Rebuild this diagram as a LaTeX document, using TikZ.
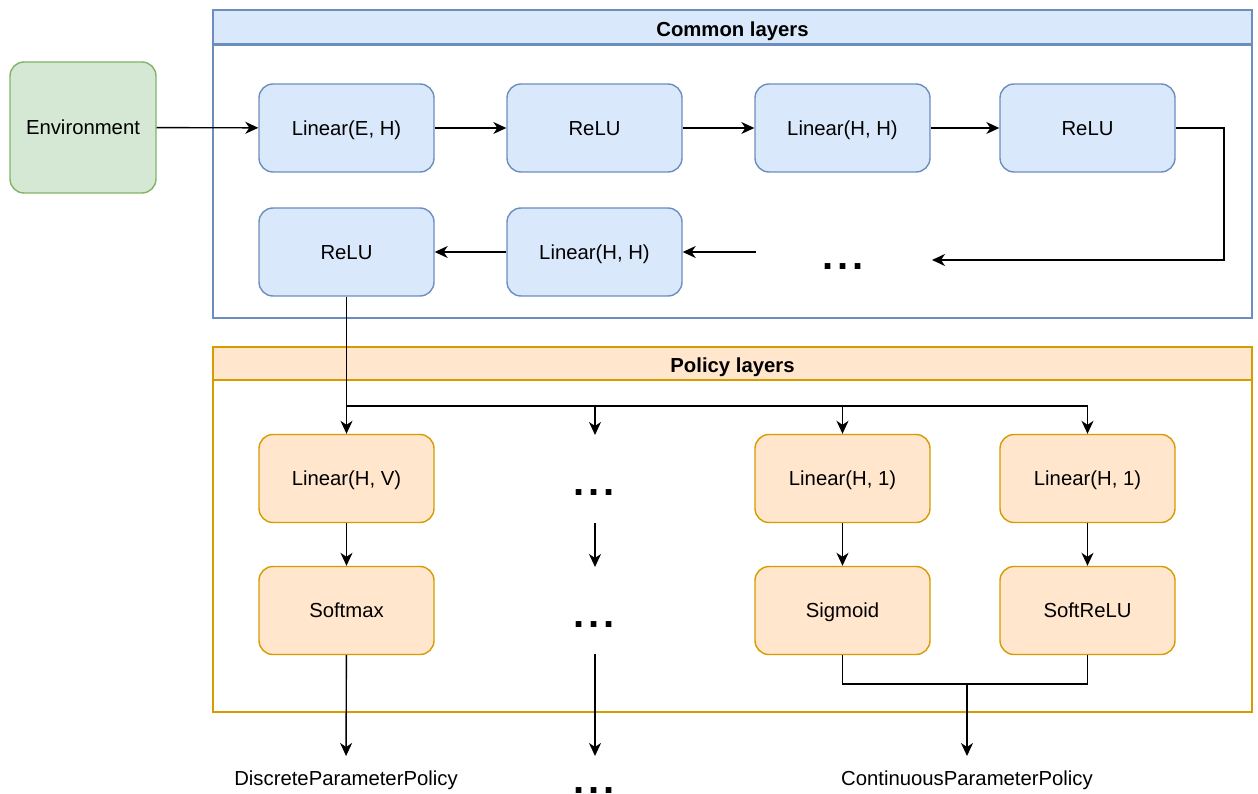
\documentclass[tikz,border=0pt]{standalone}
\usepackage{fontspec}
\setmainfont{Liberation Sans}
\usetikzlibrary{arrows.meta}

\definecolor{blueFill}{HTML}{DAE8FC}
\definecolor{blueLine}{HTML}{6C8EBF}
\definecolor{orangeFill}{HTML}{FFE6CC}
\definecolor{orangeLine}{HTML}{D79B00}
\definecolor{greenFill}{HTML}{D5E8D4}
\definecolor{greenLine}{HTML}{82B366}

\newcommand{\spacedots}{.\kern3.9pt.\kern3.9pt.}

\tikzset{
  txt/.style={font=\fontsize{20.3}{24}\selectfont, text height=14.6pt, text depth=0pt},
  layerbox/.style={txt, draw=blueLine, fill=blueFill, line width=1.4pt,
    rounded corners=14pt, minimum width=175pt, minimum height=88pt, inner sep=0pt},
  policybox/.style={layerbox, draw=orangeLine, fill=orangeFill},
  envbox/.style={layerbox, draw=greenLine, fill=greenFill,
    minimum width=146pt, minimum height=131pt},
  groupbody/.style={draw=blueLine, line width=2.6pt, minimum width=1039pt,
    minimum height=308pt, inner sep=0pt},
  grouphead/.style={draw=blueLine, fill=blueFill, line width=2.6pt,
    minimum width=1039pt, minimum height=34.5pt, inner sep=0pt,
    font=\fontsize{20.3}{24}\bfseries\selectfont, text height=14.6pt, text depth=0pt},
  headtitle/.style={font=\fontsize{20.3}{24}\bfseries\selectfont, inner sep=0pt,
    text height=14.6pt, text depth=0pt},
  conn/.style={line width=1.4pt, -{Stealth[length=13pt,width=12pt,inset=4pt]}},
  wire/.style={line width=1.4pt},
  gap/.style={font=\fontsize{40}{40}\bfseries\selectfont, inner sep=0pt},
  outlabel/.style={txt, anchor=north, inner xsep=0pt, inner ysep=15pt}
}

\begin{document}
\begin{tikzpicture}[x=1pt, y=-1pt]
  \useasboundingbox (0,0) rectangle (1258,794);

  % group frames
  \node[groupbody] (commonbody) at (732.5,164) {};
  \node[grouphead] (commonhead) at (732.5,27.25) {};
  \node[headtitle] (commontitle) at (732.5,29) {Common layers};
  \node[groupbody, draw=orangeLine, minimum height=365pt] (policybody) at (732.5,529.5) {};
  \node[grouphead, draw=orangeLine, fill=orangeFill, minimum height=33pt] (policyhead) at (732.5,363.5) {};
  \node[headtitle] (policytitle) at (732.5,365) {Policy layers};

  % input
  \node[envbox] (env) at (83,127.5) {Environment};

  % common layers
  \node[layerbox] (linEH) at (346.5,128) {Linear(E, H)};
  \node[layerbox] (reluA) at (594.5,128) {ReLU};
  \node[layerbox] (linHHa) at (842.5,128) {Linear(H, H)};
  \node[layerbox] (reluB) at (1087.5,128) {ReLU};
  \node[layerbox] (reluC) at (346.5,252) {ReLU};
  \node[layerbox] (linHHb) at (594.5,252) {Linear(H, H)};
  \node[gap] (gapCommon) at (843,267) {\spacedots};

  % policy heads
  \node[policybox] (linHV) at (346.5,478.5) {Linear(H, V)};
  \node[policybox] (linHoneA) at (842.5,478.5) {Linear(H, 1)};
  \node[policybox] (linHoneB) at (1087.5,478.5) {Linear(H, 1)};
  \node[policybox] (softmax) at (346.5,610.5) {Softmax};
  \node[policybox] (sigmoid) at (842.5,610.5) {Sigmoid};
  \node[policybox] (softrelu) at (1087.5,610.5) {SoftReLU};
  \node[gap] (gapA) at (594,493) {\spacedots};
  \node[gap] (gapB) at (594,625) {\spacedots};
  \node[gap] (gapC) at (594,791) {\spacedots};

  % outputs
  \node[outlabel] (discrete) at (346,756) {DiscreteParameterPolicy};
  \node[outlabel] (continuous) at (967,756) {ContinuousParameterPolicy};

  % helper points
  \coordinate (loopTurn) at (1224,260);
  \coordinate (loopIn) at (932,260);
  \coordinate (loopOut) at (756,252);
  \coordinate (split) at (346,406);
  \coordinate (midIn) at (595,435);
  \coordinate (midAtop) at (595,523);
  \coordinate (midAbot) at (595,567);
  \coordinate (midBtop) at (595,654);
  \coordinate (midBbot) at (595,756);
  \coordinate (join) at (967,684);

  % common layer flow
  \draw[conn] (env) -- (linEH);
  \draw[conn] (linEH) -- (reluA);
  \draw[conn] (reluA) -- (linHHa);
  \draw[conn] (linHHa) -- (reluB);
  \draw[conn] (reluB.east) -| (loopTurn) -- (loopIn);
  \draw[conn] (loopOut) -- (linHHb.east);
  \draw[conn] (linHHb) -- (reluC);

  % fan-out into the policy heads
  \draw[conn] (reluC) -- (linHV);
  \draw[conn] (split) -| (midIn);
  \draw[conn] (split) -| (linHoneA);
  \draw[conn] (split) -| (linHoneB);

  \draw[conn] (linHV) -- (softmax);
  \draw[conn] (linHoneA) -- (sigmoid);
  \draw[conn] (linHoneB) -- (softrelu);
  \draw[conn] (midAtop) -- (midAbot);
  \draw[conn] (midBtop) -- (midBbot);

  % outputs
  \draw[conn] (softmax) -- (discrete);
  \draw[wire] (sigmoid.south) |- (join) -| (softrelu.south);
  \draw[conn] (join) -- (continuous);
\end{tikzpicture}
\end{document}
